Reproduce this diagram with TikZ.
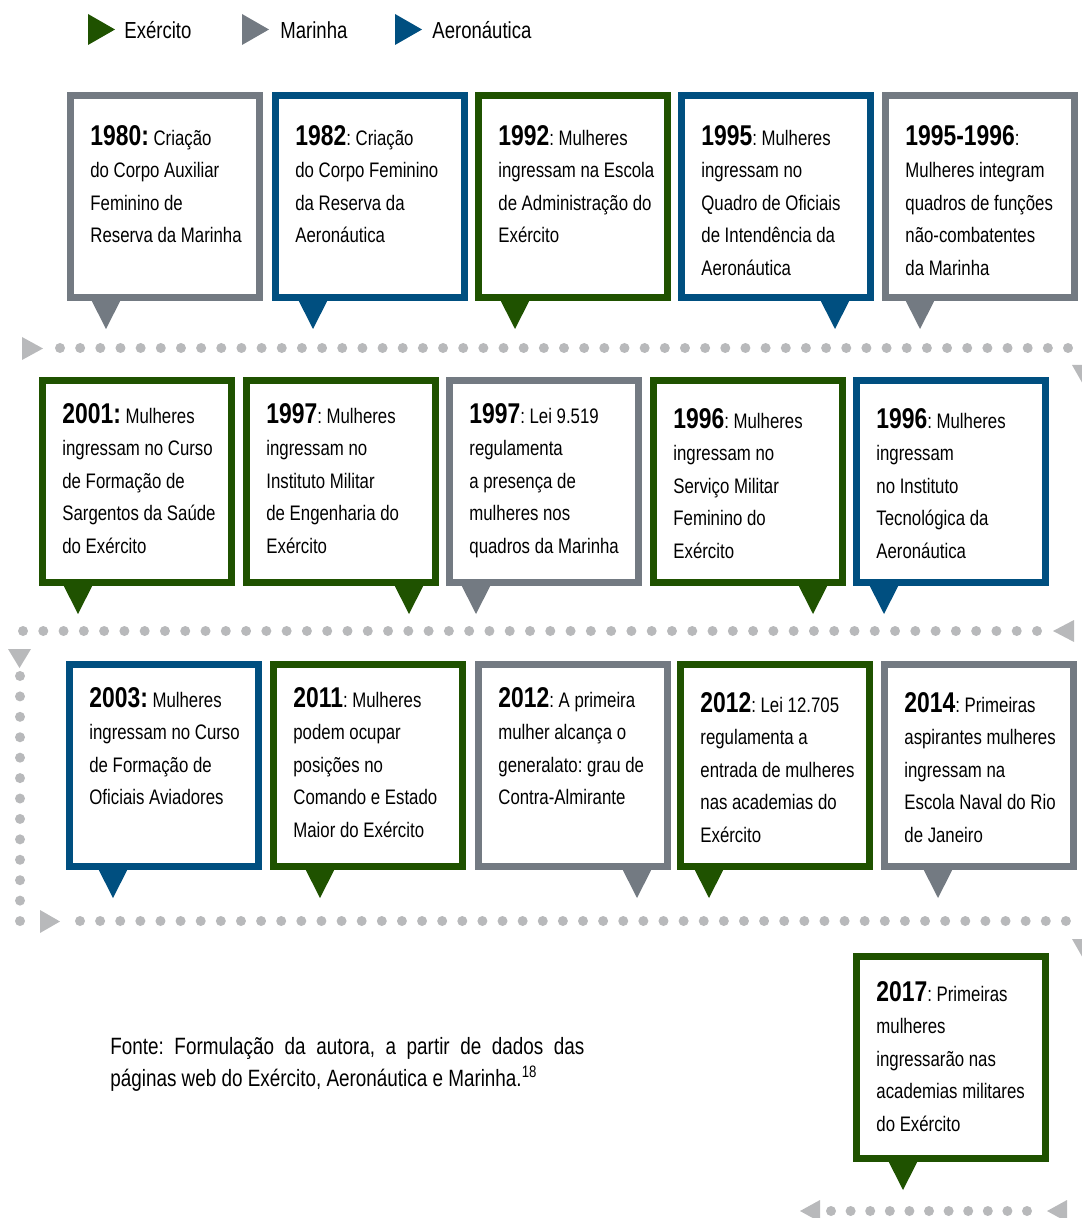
\documentclass[tikz,border=0pt]{standalone}
\usepackage{fontspec}
\setmainfont[FakeStretch=0.80]{Liberation Sans}
\usetikzlibrary{calc}
\definecolor{verde}{HTML}{1F5200}
\definecolor{cinza}{HTML}{737A82}
\definecolor{azul}{HTML}{004F80}
\definecolor{pontilhado}{HTML}{B8B9BB}
\newcommand{\anob}[1]{{\fontsize{14.3}{16.25}\selectfont\bfseries #1}}
\frenchspacing

\begin{document}
\begin{tikzpicture}[x=0.5pt, y=-0.5pt, line join=miter]
	\tikzset{caixa/.style={draw, line width=3.5pt, fill=white, minimum width=94.5pt, minimum height=101pt, inner sep=0pt, outer sep=0pt, anchor=north west},
		texto/.style={font=\fontsize{10.5}{16.25}\selectfont, align=left, inner sep=0pt, anchor=north west},
		legenda/.style={font=\fontsize{11.6}{14}\selectfont, inner sep=0pt, anchor=west},
		ponto/.style={fill=pontilhado}}
	\useasboundingbox (0,0) rectangle (1081,1218);
	% legenda
	\fill[verde] (88,14)--(88,45)--(115,29.5)--cycle;
	\node[legenda] (lexercito) at (124,30) {Exército};
	\fill[cinza] (242,14)--(242,45)--(269,29.5)--cycle;
	\node[legenda] (lmarinha) at (280,30) {Marinha};
	\fill[azul] (395,14)--(395,45)--(422,29.5)--cycle;
	\node[legenda] (laeronautica) at (432,30) {Aeronáutica};
	% linhas pontilhadas
	\foreach \i in {0,...,50} \fill[ponto] (60+\i*20.16,348) circle (5);
	\foreach \i in {0,...,50} \fill[ponto] (23+\i*20.28,631) circle (5);
	\foreach \i in {0,...,12} \fill[ponto] (20,676+\i*20.42) circle (5);
	\foreach \i in {0,...,49} \fill[ponto] (80+\i*20.12,921) circle (5);
	\foreach \i in {0,...,10} \fill[ponto] (831+\i*19.6,1211) circle (5);
	\fill[ponto] (22,337)--(22,360)--(43,348.5)--cycle;
	\fill[ponto] (1072,365)--(1096,365)--(1084,386)--cycle;
	\fill[ponto] (1074,620)--(1074,642)--(1053,631)--cycle;
	\fill[ponto] (8,649)--(31,649)--(19.5,668)--cycle;
	\fill[ponto] (40,910)--(40,933)--(60,921.5)--cycle;
	\fill[ponto] (1072,939)--(1096,939)--(1084,960)--cycle;
	\fill[ponto] (820,1200)--(820,1222)--(800,1211)--cycle;
	\fill[ponto] (1067,1200)--(1067,1222)--(1047,1211)--cycle;
	% caixas
	\foreach \nome/\x/\y/\cor/\p/\dy/\txt in {
		c1980/67/92/cinza/39/43/{\anob{1980:} Criação\\do Corpo Auxiliar\\Feminino de\\Reserva da Marinha},
		c1982/272/92/azul/41/43/{\anob{1982}: Criação\\do Corpo Feminino\\da Reserva da\\Aeronáutica},
		c1992/475/92/verde/40/43/{\anob{1992}: Mulheres\\ingressam na Escola\\de Administração do\\Exército},
		c1995/678/92/azul/157/43/{\anob{1995}: Mulheres\\ingressam no\\Quadro de Oficiais\\de Intendência da\\Aeronáutica},
		c1996m/882/92/cinza/38/43/{\anob{1995-1996}:\\Mulheres integram\\quadros de funções\\não-combatentes\\da Marinha},
		c2001/39/377/verde/39/36/{\anob{2001:} Mulheres\\ingressam no Curso\\de Formação de\\Sargentos da Saúde\\do Exército},
		c1997e/243/377/verde/166/36/{\anob{1997}: Mulheres\\ingressam no\\Instituto Militar\\de Engenharia do\\Exército},
		c1997m/446/377/cinza/30/36/{\anob{1997}: Lei 9.519\\regulamenta\\a presença de\\mulheres nos\\quadros da Marinha},
		c1996e/650/377/verde/163/41/{\anob{1996}: Mulheres\\ingressam no\\Serviço Militar\\Feminino do\\Exército},
		c1996a/853/377/azul/31/41/{\anob{1996}: Mulheres\\ingressam\\no Instituto\\Tecnológica da\\Aeronáutica},
		c2003/66/661/azul/47/36/{\anob{2003:} Mulheres\\ingressam no Curso\\de Formação de\\Oficiais Aviadores},
		c2011/270/661/verde/50/36/{\anob{2011}: Mulheres\\podem ocupar\\posições no\\Comando e Estado\\Maior do Exército},
		c2012m/475/661/cinza/162/36/{\anob{2012}: A primeira\\mulher alcança o\\generalato: grau de\\Contra-Almirante},
		c2012e/677/661/verde/32/41/{\anob{2012}: Lei 12.705\\regulamenta a\\entrada de mulheres\\nas academias do\\Exército},
		c2014/881/661/cinza/57/41/{\anob{2014}: Primeiras\\aspirantes mulheres\\ingressam na\\Escola Naval do Rio\\de Janeiro},
		c2017/853/953/verde/50/38/{\anob{2017}: Primeiras\\mulheres\\ingressarão nas\\academias militares\\do Exército}}{
		\node[caixa, draw=\cor] (\nome) at (\x+3.5,\y+3.5) {};
		\fill[\cor] ($(\nome.south west)+(\p-19.5,0)$) -- ++(32,0) -- ++(-16,31.5) -- cycle;
		\node[texto] (\nome t) at ($(\nome.north west)+(19.5,\dy-13.5)$) {\txt};
	}
	% fonte
	\node[anchor=north west, text width=237pt, align=justify, inner sep=0pt, font=\fontsize{11.8}{16}\selectfont] (fonte) at (110,1037) {Fonte: Formulação da autora, a partir de dados das\linebreak páginas web do Exército, Aeronáutica e Marinha.\textsuperscript{18}};
\end{tikzpicture}
\end{document}
